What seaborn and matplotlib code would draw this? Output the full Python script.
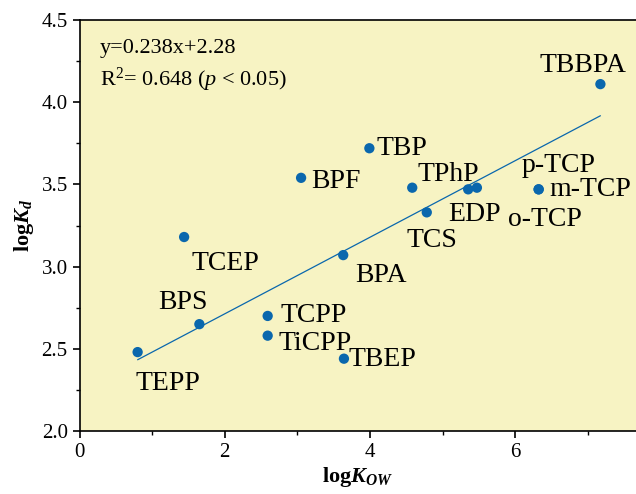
import matplotlib
matplotlib.use("Agg")
import matplotlib.pyplot as plt
import seaborn as sns
import pandas as pd
from matplotlib.ticker import MultipleLocator

# values
compounds = ["TEPP", "BPS", "TCEP", "TCPP", "TiCPP", "TBEP", "BPA", "BPF",
             "TBP", "TPhP", "TCS", "EDP", "o-TCP", "p-TCP", "m-TCP", "TBBPA"]
log_kow = [0.80, 1.65, 1.44, 2.59, 2.59, 3.64, 3.63, 3.05,
           3.99, 4.58, 4.78, 5.35, 5.47, 6.32, 6.32, 7.17]
log_kd = [2.48, 2.65, 3.18, 2.70, 2.58, 2.44, 3.07, 3.54,
          3.72, 3.48, 3.33, 3.47, 3.48, 3.47, 3.47, 4.11]

# fitted line as drawn in the reference
fit_slope = 0.233
fit_intercept = 2.247
fit_text = ["y=0.238x+2.28", r"R$^2$= 0.648 ($\it{p}$ < 0.05)"]

# label offsets from each point (pixels: right, down) to text left/baseline
label_offset = {
    "TEPP": (-2, 38), "BPS": (-41, -15), "TCEP": (7, 33), "TCPP": (13, 6),
    "TiCPP": (11, 14), "TBEP": (5, 7), "BPA": (12, 27), "BPF": (10, 10),
    "TBP": (7, 7), "TPhP": (5, -7), "TCS": (-20, 35), "EDP": (-20, 32),
    "o-TCP": (31, 38), "p-TCP": (-17, -17), "m-TCP": (11, 7), "TBBPA": (-61, -12),
}

df = pd.DataFrame({"compound": compounds, "logKow": log_kow, "logKd": log_kd})
x_ends = [min(log_kow), max(log_kow)]
fit_df = pd.DataFrame({"logKow": x_ends,
                       "logKd": [fit_slope * v + fit_intercept for v in x_ends]})

sns.set_theme(style="ticks")
plt.rcParams["font.family"] = ["Liberation Serif", "DejaVu Serif"]
plt.rcParams["text.color"] = "black"
plt.rcParams["axes.labelcolor"] = "black"
plt.rcParams["mathtext.fontset"] = "custom"
plt.rcParams["mathtext.rm"] = "Liberation Serif"
plt.rcParams["mathtext.it"] = "Liberation Serif:italic"
plt.rcParams["mathtext.bf"] = "Liberation Serif:bold"
plt.rcParams["mathtext.bfit"] = "Liberation Serif:bold:italic"

blue = "#0a67ad"
fig = plt.figure(figsize=(6.36, 4.94), dpi=100)
ax = fig.add_axes([0.125, 0.1275, 0.875, 0.832])
ax.set_facecolor("#f7f3c3")

sns.lineplot(data=fit_df, x="logKow", y="logKd", ax=ax, color=blue, lw=0.9)
sns.scatterplot(data=df, x="logKow", y="logKd", ax=ax, color=blue, s=55,
                edgecolor="none", zorder=3)

for name, x, y in zip(compounds, log_kow, log_kd):
    dx, dy = label_offset[name]
    ax.annotate(name, (x, y), xytext=(dx * 0.72, -dy * 0.72),
                textcoords="offset points", ha="left", va="baseline",
                fontsize=20, color="black")

ax.text(0.037, 0.920, fit_text[0], transform=ax.transAxes, fontsize=16,
        va="baseline")
ax.text(0.037, 0.839, fit_text[1], transform=ax.transAxes, fontsize=16,
        va="baseline")

ax.set_xlim(0, 7.66)
ax.set_ylim(2.0, 4.5)
ax.xaxis.set_major_locator(MultipleLocator(2))
ax.xaxis.set_minor_locator(MultipleLocator(1))
ax.yaxis.set_major_locator(MultipleLocator(0.5))
ax.yaxis.set_minor_locator(MultipleLocator(0.25))
ax.yaxis.set_major_formatter(plt.FormatStrFormatter("%.1f"))
ax.tick_params(which="major", direction="out", length=5, width=1.2,
               labelsize=15, color="black", labelcolor="black")
ax.tick_params(which="minor", direction="out", length=3, width=1.0,
               color="black")

for side in ["left", "bottom", "top"]:
    ax.spines[side].set_color("black")
    ax.spines[side].set_linewidth(1.2)
ax.spines["right"].set_visible(False)

ax.set_xlabel(r"log$\mathbfit{K}_{\mathbfit{OW}}$", fontsize=16,
              fontweight="bold", labelpad=2)
ax.set_ylabel(r"log$\mathbfit{K}_{\mathbfit{d}}$", fontsize=16,
              fontweight="bold", labelpad=4)

fig.savefig("out.png", dpi=100)
